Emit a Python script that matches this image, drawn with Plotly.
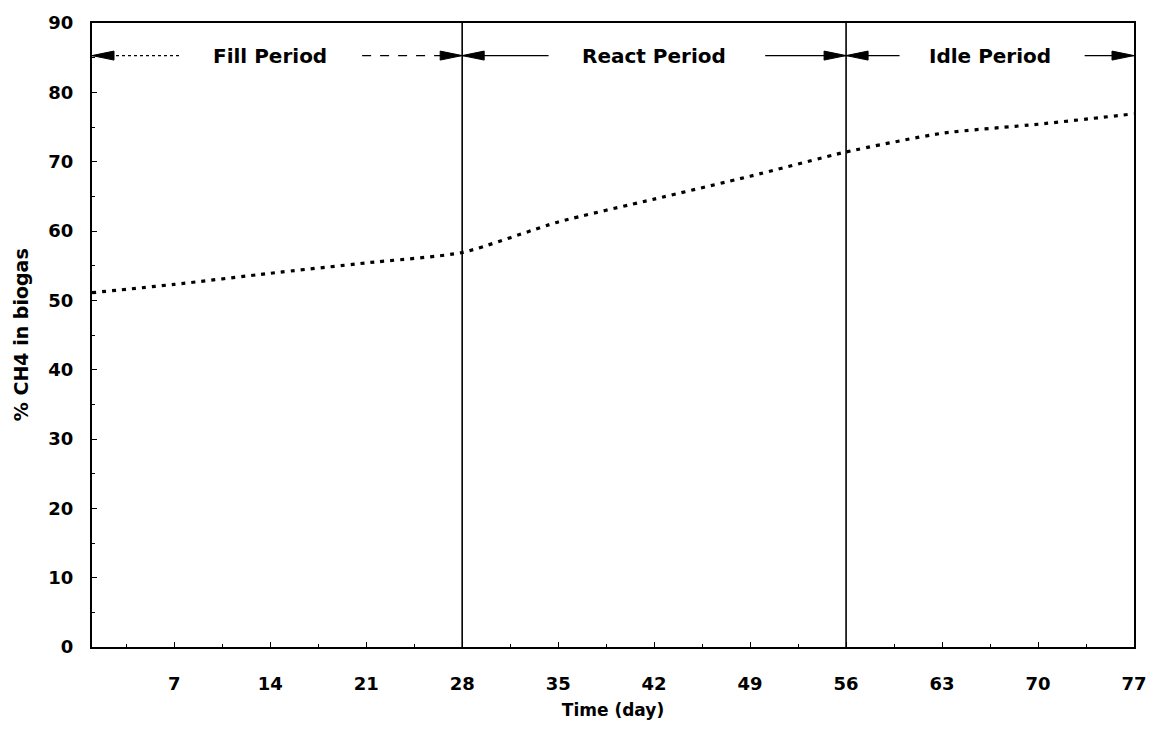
import plotly.graph_objects as go

# Data
days = [1, 7, 14, 21, 28, 35, 42, 49, 56, 63, 70, 77]
ch4_pct = [51.1, 52.3, 53.9, 55.4, 56.9, 61.3, 64.6, 67.9, 71.4, 74.1, 75.4, 76.9]

period_names = ["Fill Period", "React Period", "Idle Period"]
period_start = [1, 28, 56]
period_end = [28, 56, 77]
period_center = [14, 42, 66.5]
# where the arrow lines leave the label (left end, right end)
label_left = [7.4, 34.3, 59.9]
label_right = [20.7, 50.1, 73.4]
period_y = 85.3

x_ticks = [7, 14, 21, 28, 35, 42, 49, 56, 63, 70, 77]
y_ticks = [0, 10, 20, 30, 40, 50, 60, 70, 80, 90]

FONT = "DejaVu Sans, sans-serif"

fig = go.Figure()
fig.add_trace(go.Scatter(
    x=days, y=ch4_pct, mode="lines",
    line=dict(color="black", width=3.2, dash="4px,6px", shape="spline", smoothing=0.6),
    showlegend=False, hoverinfo="skip",
))

shapes = []
for xv in [28, 56]:
    shapes.append(dict(type="line", xref="x", yref="paper", x0=xv, x1=xv, y0=0, y1=1,
                       line=dict(color="black", width=1.6)))

annotations = []
for i, name in enumerate(period_names):
    annotations.append(dict(x=period_center[i], y=period_y, xref="x", yref="y",
                            text="<b>" + name + "</b>",
                            showarrow=False, font=dict(family=FONT, size=20, color="black")))
    dash_l = "dot" if i == 0 else "solid"
    dash_r = "dash" if i == 0 else "solid"
    shapes.append(dict(type="line", xref="x", yref="y", x0=period_start[i], x1=label_left[i],
                       y0=period_y, y1=period_y, line=dict(color="black", width=1.2, dash=dash_l)))
    shapes.append(dict(type="line", xref="x", yref="y", x0=label_right[i], x1=period_end[i],
                       y0=period_y, y1=period_y, line=dict(color="black", width=1.2, dash=dash_r)))
    shapes.append(dict(type="path", xref="x", yref="y", xsizemode="pixel", ysizemode="pixel",
                       xanchor=period_start[i], yanchor=period_y,
                       path="M0,0 L22,4.5 L22,-4.5 Z", fillcolor="black",
                       line=dict(color="black", width=1)))
    shapes.append(dict(type="path", xref="x", yref="y", xsizemode="pixel", ysizemode="pixel",
                       xanchor=period_end[i], yanchor=period_y,
                       path="M0,0 L-22,4.5 L-22,-4.5 Z", fillcolor="black",
                       line=dict(color="black", width=1)))

# y-axis title placed as rotated text left of the tick labels
annotations.append(dict(x=-0.068, y=0.5, xref="paper", yref="paper", xanchor="center",
                        yanchor="middle", textangle=-90, showarrow=False,
                        text="<b>% CH4 in biogas</b>",
                        font=dict(family=FONT, size=19, color="black")))

fig.update_layout(
    width=1159, height=730,
    margin=dict(l=92, r=22, t=17, b=83),
    paper_bgcolor="white", plot_bgcolor="white",
    font=dict(family=FONT, size=17, color="black", weight="bold"),
    shapes=shapes, annotations=annotations,
    xaxis=dict(range=[1, 77], tickvals=x_ticks, ticktext=[str(v) for v in x_ticks],
               tickfont=dict(family=FONT, size=18, weight="bold"),
               showgrid=False, zeroline=False, showline=True, mirror=True,
               linecolor="black", linewidth=2, ticks="inside", ticklen=5, tickcolor="black",
               ticklabelstandoff=19,
               minor=dict(tickvals=[3.5 + 7 * k for k in range(11)], ticks="inside", ticklen=3,
                          tickcolor="black"),
               title=dict(text="Time (day)", font=dict(family=FONT, size=17, weight="bold"),
                          standoff=12)),
    yaxis=dict(range=[0, 90], tickvals=y_ticks, showgrid=False, zeroline=False,
               tickfont=dict(family=FONT, size=18, weight="bold"),
               showline=True, mirror=True, linecolor="black", linewidth=2,
               ticks="inside", ticklen=5, tickcolor="black", ticklabelstandoff=13,
               minor=dict(tickvals=[5 + 10 * k for k in range(9)], ticks="inside", ticklen=3,
                          tickcolor="black")),
)

fig.write_html("out.html")
